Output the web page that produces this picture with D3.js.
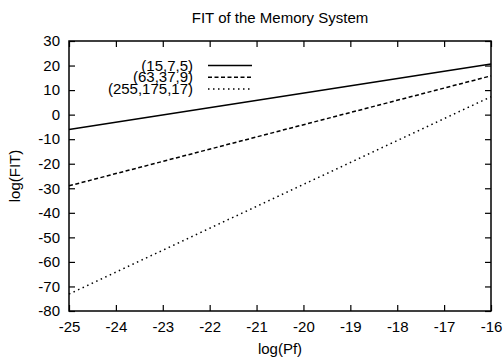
<!DOCTYPE html>
<html><head><meta charset="utf-8">
<script src="https://cdn.jsdelivr.net/npm/d3@7"></script>
<style>
body{margin:0;background:#fff;}
text{font-family:"Liberation Sans",Arial,Helvetica,sans-serif;fill:#000;}
</style></head>
<body><svg id="c" width="503" height="357"></svg>
<script>
const title = "FIT of the Memory System";
const xLabel = "log(Pf)";
const yLabel = "log(FIT)";
const xTicks = [-25,-24,-23,-22,-21,-20,-19,-18,-17,-16];
const yTicks = [30,20,10,0,-10,-20,-30,-40,-50,-60,-70,-80];
const seriesNames = ["(15,7,5)","(63,37,9)","(255,175,17)"];
const logPf = [-25,-16];
const fit1 = [-6.1, 20.6];
const fit2 = [-29.0, 15.8];
const fit3 = [-73.1, 7.3];
const dashes = [null, "4,2.5", "1.5,3.5"];

const svg = d3.select("#c");
const L=69, R=491, T=41, B=311;
const x = d3.scaleLinear().domain([-25,-16]).range([L,R]);
const y = d3.scaleLinear().domain([-80,30]).range([B,T]);
const fs = 15;
const fmt = d => String(d);

svg.append("text").attr("x",(L+R)/2).attr("y",23).attr("text-anchor","middle")
  .attr("font-size",fs).text(title);

const gB = svg.append("g").attr("transform",`translate(0,${B})`)
  .call(d3.axisBottom(x).tickValues(xTicks).tickSize(-6).tickPadding(10).tickFormat(fmt));
const gT = svg.append("g").attr("transform",`translate(0,${T})`)
  .call(d3.axisTop(x).tickValues(xTicks).tickSize(-6).tickFormat(""));
const gL = svg.append("g").attr("transform",`translate(${L},0)`)
  .call(d3.axisLeft(y).tickValues(yTicks).tickSize(-6).tickPadding(9).tickFormat(fmt));
const gR = svg.append("g").attr("transform",`translate(${R},0)`)
  .call(d3.axisRight(y).tickValues(yTicks).tickSize(-6).tickFormat(""));
[gB,gT,gL,gR].forEach(g=>{
  g.select(".domain").remove();
  g.selectAll(".tick line").attr("stroke","#000").attr("stroke-width",1.2);
  g.selectAll(".tick text").attr("font-size",fs).attr("font-family","Liberation Sans, Arial, sans-serif").attr("fill","#000");
});
svg.append("rect").attr("x",L).attr("y",T).attr("width",R-L).attr("height",B-T)
  .attr("fill","none").attr("stroke","#000").attr("stroke-width",1.5);

svg.append("text").attr("x",(L+R)/2).attr("y",354).attr("text-anchor","middle")
  .attr("font-size",fs).text(xLabel);
svg.append("text").attr("transform",`translate(20,${(T+B)/2}) rotate(-90)`)
  .attr("text-anchor","middle").attr("font-size",fs).text(yLabel);

const series = [fit1,fit2,fit3];
const line = d3.line().x(d=>x(d[0])).y(d=>y(d[1]));
series.forEach((s,i)=>{
  const pts = logPf.map((p,j)=>[p,s[j]]);
  svg.append("path").attr("d",line(pts)).attr("fill","none").attr("stroke","#000")
    .attr("stroke-width",1.5).attr("stroke-dasharray",dashes[i]);
  const ly = 65.5 + i*11.7;
  svg.append("text").attr("x",193).attr("y",ly+5).attr("text-anchor","end")
    .attr("font-size",fs).text(seriesNames[i]);
  svg.append("line").attr("x1",208).attr("x2",252).attr("y1",ly).attr("y2",ly)
    .attr("stroke","#000").attr("stroke-width",1.5).attr("stroke-dasharray",dashes[i]);
});
</script></body></html>
